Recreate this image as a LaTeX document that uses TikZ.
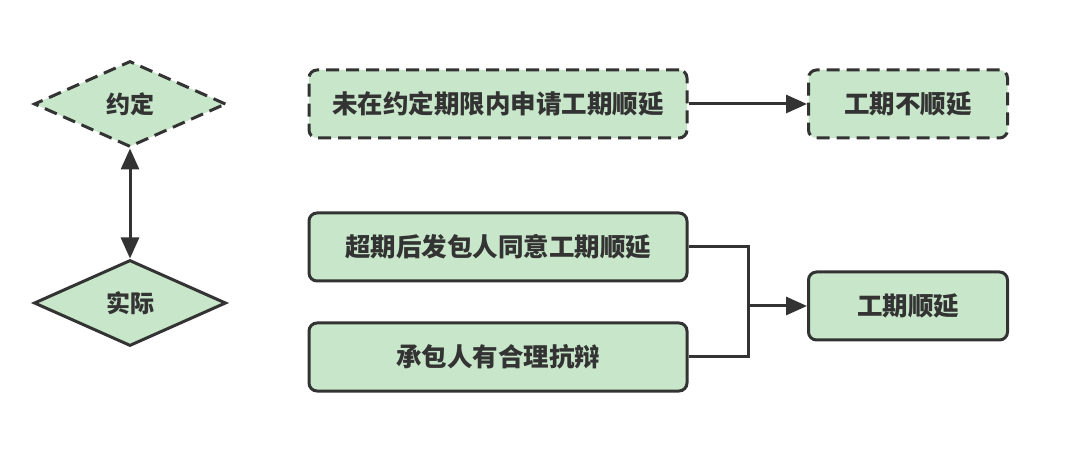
\documentclass[tikz,border=0pt]{standalone}
\usepackage{fontspec}
\newfontfamily\cjk{Noto Sans CJK SC}
\usetikzlibrary{shapes.geometric,arrows.meta}
\definecolor{boxfill}{HTML}{C8E6C9}
\definecolor{ink}{HTML}{333333}
\begin{document}
\begin{tikzpicture}[x=1pt,y=-1pt]
  \tikzstyle{cond}=[diamond,draw=ink,fill=boxfill,line width=3pt,inner sep=0pt,minimum width=192pt,minimum height=86pt,text=ink,font=\cjk\bfseries\fontsize{24}{28}\selectfont]
  \tikzstyle{box}=[rectangle,rounded corners=8pt,draw=ink,fill=boxfill,line width=3pt,minimum height=68pt,text=ink,font=\cjk\bfseries\fontsize{25.5}{30}\selectfont]
  \tikzstyle{dashedline}=[dash pattern=on 13pt off 7pt]
  \tikzstyle{link}=[draw=ink,line width=3pt,-{Triangle[length=21pt,width=18pt]}]
  \useasboundingbox (0,0) rectangle (1080,457);

  \node[cond,dashedline] (yueding) at (130,104) {约定};
  \node[cond] (shiji) at (130,303) {实际};
  \draw[link,{Triangle[length=21pt,width=18pt]}-{Triangle[length=21pt,width=18pt]}] (yueding) -- (shiji);

  \node[box,dashedline,minimum width=378pt] (weishenqing) at (498,104) {未在约定期限内申请工期顺延};
  \node[box,dashedline,minimum width=199pt] (bushunyan) at (908,104) {工期不顺延};
  \draw[link] (weishenqing) -- (bushunyan);

  \node[box,minimum width=378pt] (tongyi) at (498,247) {超期后发包人同意工期顺延};
  \node[box,minimum width=378pt] (kangbian) at (498,357) {承包人有合理抗辩};
  \node[box,minimum width=199pt] (shunyan) at (908,306) {工期顺延};

  \coordinate (join) at (748,306);
  \draw[draw=ink,line width=3pt] (tongyi.east) -| (join);
  \draw[draw=ink,line width=3pt] (kangbian.east) -| (join);
  \draw[link] (join) -- (shunyan);
\end{tikzpicture}
\end{document}
